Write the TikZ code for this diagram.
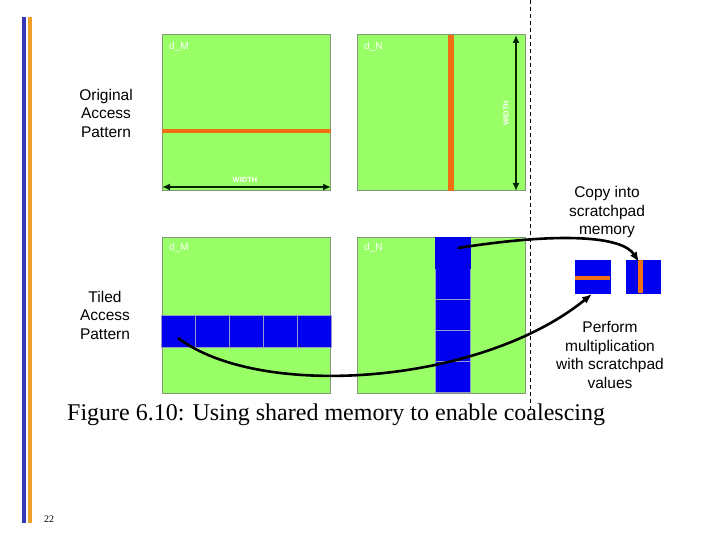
\documentclass[tikz,border=0pt]{standalone}
\usepackage{fontspec}
\setmainfont{Liberation Serif}
\newfontfamily\arialf{Liberation Sans}
\usetikzlibrary{arrows.meta}
\definecolor{grn}{RGB}{153,255,102}
\definecolor{grnb}{RGB}{130,150,120}
\definecolor{tblue}{RGB}{0,0,238}
\definecolor{tbord}{RGB}{150,150,200}
\definecolor{stripe}{RGB}{240,110,20}
\definecolor{barblue}{RGB}{55,55,185}
\definecolor{barorange}{RGB}{240,160,40}
\tikzset{
  sq/.style={draw=grnb, line width=1pt, fill=grn, minimum width=168pt, minimum height=156pt, inner sep=0pt},
  tile/.style={draw=tbord, line width=0.8pt, fill=tblue, inner sep=0pt},
  lbl/.style={font=\arialf\fontsize{15.5}{18.5}\selectfont, align=center},
  dlbl/.style={font=\arialf\fontsize{10}{11}\selectfont, text=white, anchor=west, inner sep=0pt},
  wlbl/.style={font=\arialf\bfseries\fontsize{7.5}{8}\selectfont, text=white, inner sep=0pt},
  dim/.style={line width=2.6pt, black!85!green, {Latex[length=8pt,width=7pt]}-{Latex[length=8pt,width=7pt]}},
  curv/.style={line width=2.6pt, -{Latex[length=10pt,width=8pt]}},
}
\begin{document}
\begin{tikzpicture}[x=1pt,y=-1pt]
\useasboundingbox (0,0) rectangle (720,540);
% side bars
\fill[barblue] (22,17) rectangle (26,523);
\fill[barorange] (28,17) rectangle (32,523);
\node[font=\fontsize{10}{12}\selectfont] (pg) at (49,519) {22};
% dashed separator
\coordinate (dtop) at (530,0);
\coordinate (dbot) at (530,410);
\draw[line width=1pt, dash pattern=on 4pt off 3pt] (dtop) -- (dbot);
% top squares
\node[sq] (tl) at (246,113) {};
\node[sq] (tr) at (441,113) {};
\node[dlbl] (tlm) at (169,47) {d\_M};
\node[dlbl] (trn) at (364,47) {d\_N};
\fill[stripe] (tl.west |- 0,129) rectangle (tl.east |- 0,133);
\fill[stripe] (448,35) rectangle (454,191);
\coordinate (wl) at (162,187);
\coordinate (wr) at (331,187);
\draw[dim] (wl) -- (wr);
\node[wlbl] (wid1) at (245,180) {WIDTH};
\coordinate (ht) at (516,35);
\coordinate (hb) at (516,191);
\draw[dim] (ht) -- (hb);
\node[wlbl, rotate=90] (wid2) at (506,113) {WIDTH};
\node[lbl] (orig) at (106,113) {Original\\Access\\Pattern};
% bottom squares
\node[sq] (bl) at (246,315) {};
\node[sq] (br) at (441,315) {};
\node[dlbl] (blm) at (169,248) {d\_M};
\node[dlbl] (brn) at (364,248) {d\_N};
\node[lbl] (tiled) at (105,315) {Tiled\\Access\\Pattern};
% row tiles
\foreach \i in {0,...,4}{
  \node[tile, minimum width=34pt, minimum height=32pt] (r\i) at ({178+34*\i},331) {};
}
% column tiles
\foreach \i in {1,...,4}{
  \node[tile, minimum width=35pt, minimum height=31pt] (c\i) at (453,{252.5+31*\i}) {};
}
\node[tile, draw=tblue, minimum width=35pt, minimum height=31pt] (c0) at (453,252.5) {};
% scratchpad tiles
\node[tile, draw=tblue, minimum width=35pt, minimum height=33pt] (sA) at (592.5,276.5) {};
\fill[stripe] (sA.west |- 0,276) rectangle (sA.east |- 0,280);
\node[tile, draw=tblue, minimum width=34pt, minimum height=33pt] (sB) at (643,276.5) {};
\fill[stripe] (637.5,260) rectangle (642.5,293);
% labels right
\node[lbl] (copy) at (607,212) {Copy into\\scratchpad\\memory};
\node[lbl] (perf) at (610,355) {Perform\\multiplication\\with scratchpad\\values};
% curves
\coordinate (s1) at (458,248);
\coordinate (e1) at (639,262);
\draw[curv] (s1) .. controls (560,232) and (622,236) .. (e1);
\coordinate (s2) at (178,338);
\coordinate (e2) at (592,294);
\draw[curv] (s2) .. controls (260,400) and (480,385) .. (e2);
% caption
\node[anchor=west, font=\fontsize{24}{28}\selectfont, inner sep=0pt] (cap) at (67,415) {Figure 6.10: Using shared memory to enable coalescing};
\end{tikzpicture}
\end{document}
